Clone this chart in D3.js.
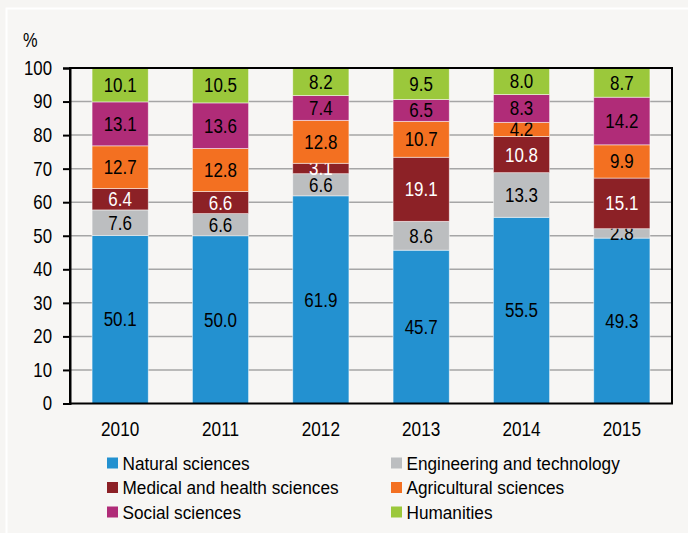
<!DOCTYPE html>
<html>
<head>
<meta charset="utf-8">
<script src="https://cdn.jsdelivr.net/npm/d3@7"></script>
<style>
  html, body { margin: 0; padding: 0; background: #f6f5f3; }
  svg { display: block; }
  text { font-family: "Liberation Sans", Arial, sans-serif; }
</style>
</head>
<body>
<svg id="chart" width="688" height="533"></svg>
<script>
// chart data
var years = ['2010', '2011', '2012', '2013', '2014', '2015'];
var fields = ['Natural sciences', 'Engineering and technology', 'Medical and health sciences',
              'Agricultural sciences', 'Social sciences', 'Humanities'];
var natural     = [50.1, 50.0, 61.9, 45.7, 55.5, 49.3];
var engineering = [7.6, 6.6, 6.6, 8.6, 13.3, 2.8];
var medical     = [6.4, 6.6, 3.1, 19.1, 10.8, 15.1];
var agri        = [12.7, 12.8, 12.8, 10.7, 4.2, 9.9];
var social      = [13.1, 13.6, 7.4, 6.5, 8.3, 14.2];
var humanities  = [10.1, 10.5, 8.2, 9.5, 8.0, 8.7];
var yTicks = [0, 10, 20, 30, 40, 50, 60, 70, 80, 90, 100];

var series = [natural, engineering, medical, agri, social, humanities];
var colors = ['#2391d0', '#bcbec0', '#8c2126', '#f37021', '#b02c78', '#9bc83b'];
var labelColors = ['#000', '#000', '#fff', '#000', '#000', '#000'];

var svg = d3.select('#chart');

// the font in the original is narrower, squeeze texts around their anchor
function condense(k) {
    return function (sel) {
        sel.attr('transform', function () {
            var tx = +this.getAttribute('x') || 0;
            return 'translate(' + tx + ',0) scale(' + k + ',1) translate(' + (-tx) + ',0)';
        });
    };
}

// inner panel with the thin white frame
svg.append('rect')
    .attr('x', 6.5).attr('y', 8.5)
    .attr('width', 700).attr('height', 560)
    .attr('fill', '#f7f6f4')
    .attr('stroke', '#ffffff')
    .attr('stroke-width', 2);

var plotL = 70, plotR = 672, plotT = 68, plotB = 403.5;

var x = d3.scaleBand().domain(years).range([plotL, plotR]).paddingInner(0.44).paddingOuter(0.22);
var y = d3.scaleLinear().domain([0, 100]).range([plotB, plotT]).clamp(true);

// gridlines
svg.append('g')
    .selectAll('line')
    .data(yTicks.slice(1, -1))
    .join('line')
    .attr('x1', plotL).attr('x2', plotR)
    .attr('y1', function (d) { return y(d); })
    .attr('y2', function (d) { return y(d); })
    .attr('stroke', '#a6a6a6')
    .attr('stroke-width', 1.5);

// stack the values
var table = years.map(function (yr, i) {
    var row = { year: yr };
    fields.forEach(function (f, k) { row[f] = series[k][i]; });
    return row;
});
var stacked = d3.stack().keys(fields)(table);

var bars = svg.append('g');
stacked.forEach(function (layer, k) {
    var g = bars.append('g');
    g.selectAll('rect')
        .data(layer)
        .join('rect')
        .attr('x', function (d) { return x(d.data.year); })
        .attr('width', x.bandwidth())
        .attr('y', function (d) { return y(d[1]); })
        .attr('height', function (d) { return y(d[0]) - y(d[1]); })
        .attr('fill', colors[k])
        .attr('stroke', 'rgba(255,255,255,0.6)')
        .attr('stroke-width', 0.8);
    g.selectAll('text')
        .data(layer)
        .join('text')
        .attr('x', function (d) { return x(d.data.year) + x.bandwidth() / 2; })
        .attr('y', function (d) { return (y(d[0]) + y(d[1])) / 2; })
        .attr('dy', '0.36em')
        .attr('text-anchor', 'middle')
        .attr('font-size', 19.5)
        .attr('fill', labelColors[k])
        .text(function (d) { return d.data[fields[k]].toFixed(1); })
        .call(condense(0.87));
});

// plot frame
svg.append('rect')
    .attr('x', plotL).attr('y', plotT)
    .attr('width', plotR - plotL).attr('height', plotB - plotT)
    .attr('fill', 'none')
    .attr('stroke', '#000')
    .attr('stroke-width', 2);

// y axis
var yAxis = svg.append('g')
    .attr('transform', 'translate(' + plotL + ',0)')
    .call(d3.axisLeft(y).tickValues(yTicks).tickSize(7).tickPadding(11));
yAxis.select('.domain').attr('stroke', '#000').attr('stroke-width', 2);
yAxis.selectAll('.tick line').attr('stroke', '#000').attr('stroke-width', 2);
yAxis.selectAll('.tick text')
    .attr('font-size', 20)
    .attr('font-family', null)
    .attr('fill', '#000')
    .call(condense(0.84));

// x axis labels
var xAxis = svg.append('g')
    .attr('transform', 'translate(0,' + plotB + ')')
    .call(d3.axisBottom(x).tickSize(0).tickPadding(18));
xAxis.select('.domain').remove();
xAxis.selectAll('.tick text')
    .attr('font-size', 20)
    .attr('font-family', null)
    .attr('fill', '#000')
    .call(condense(0.86));

// unit label
svg.append('text')
    .attr('x', 23).attr('y', 47)
    .attr('font-size', 20)
    .text('%')
    .call(condense(0.82));

// legend
var legend = svg.append('g');
fields.forEach(function (f, k) {
    var col = k % 2, row = Math.floor(k / 2);
    var lx = col === 0 ? 107 : 391;
    var ly = 463 + row * 24.5;
    legend.append('rect')
        .attr('x', lx).attr('y', ly - 5.5)
        .attr('width', 11).attr('height', 11)
        .attr('fill', colors[k]);
    legend.append('text')
        .attr('x', lx + 15.5).attr('y', ly)
        .attr('dy', '0.36em')
        .attr('font-size', 18.5)
        .text(f)
        .call(condense(0.93));
});
</script>
</body>
</html>
